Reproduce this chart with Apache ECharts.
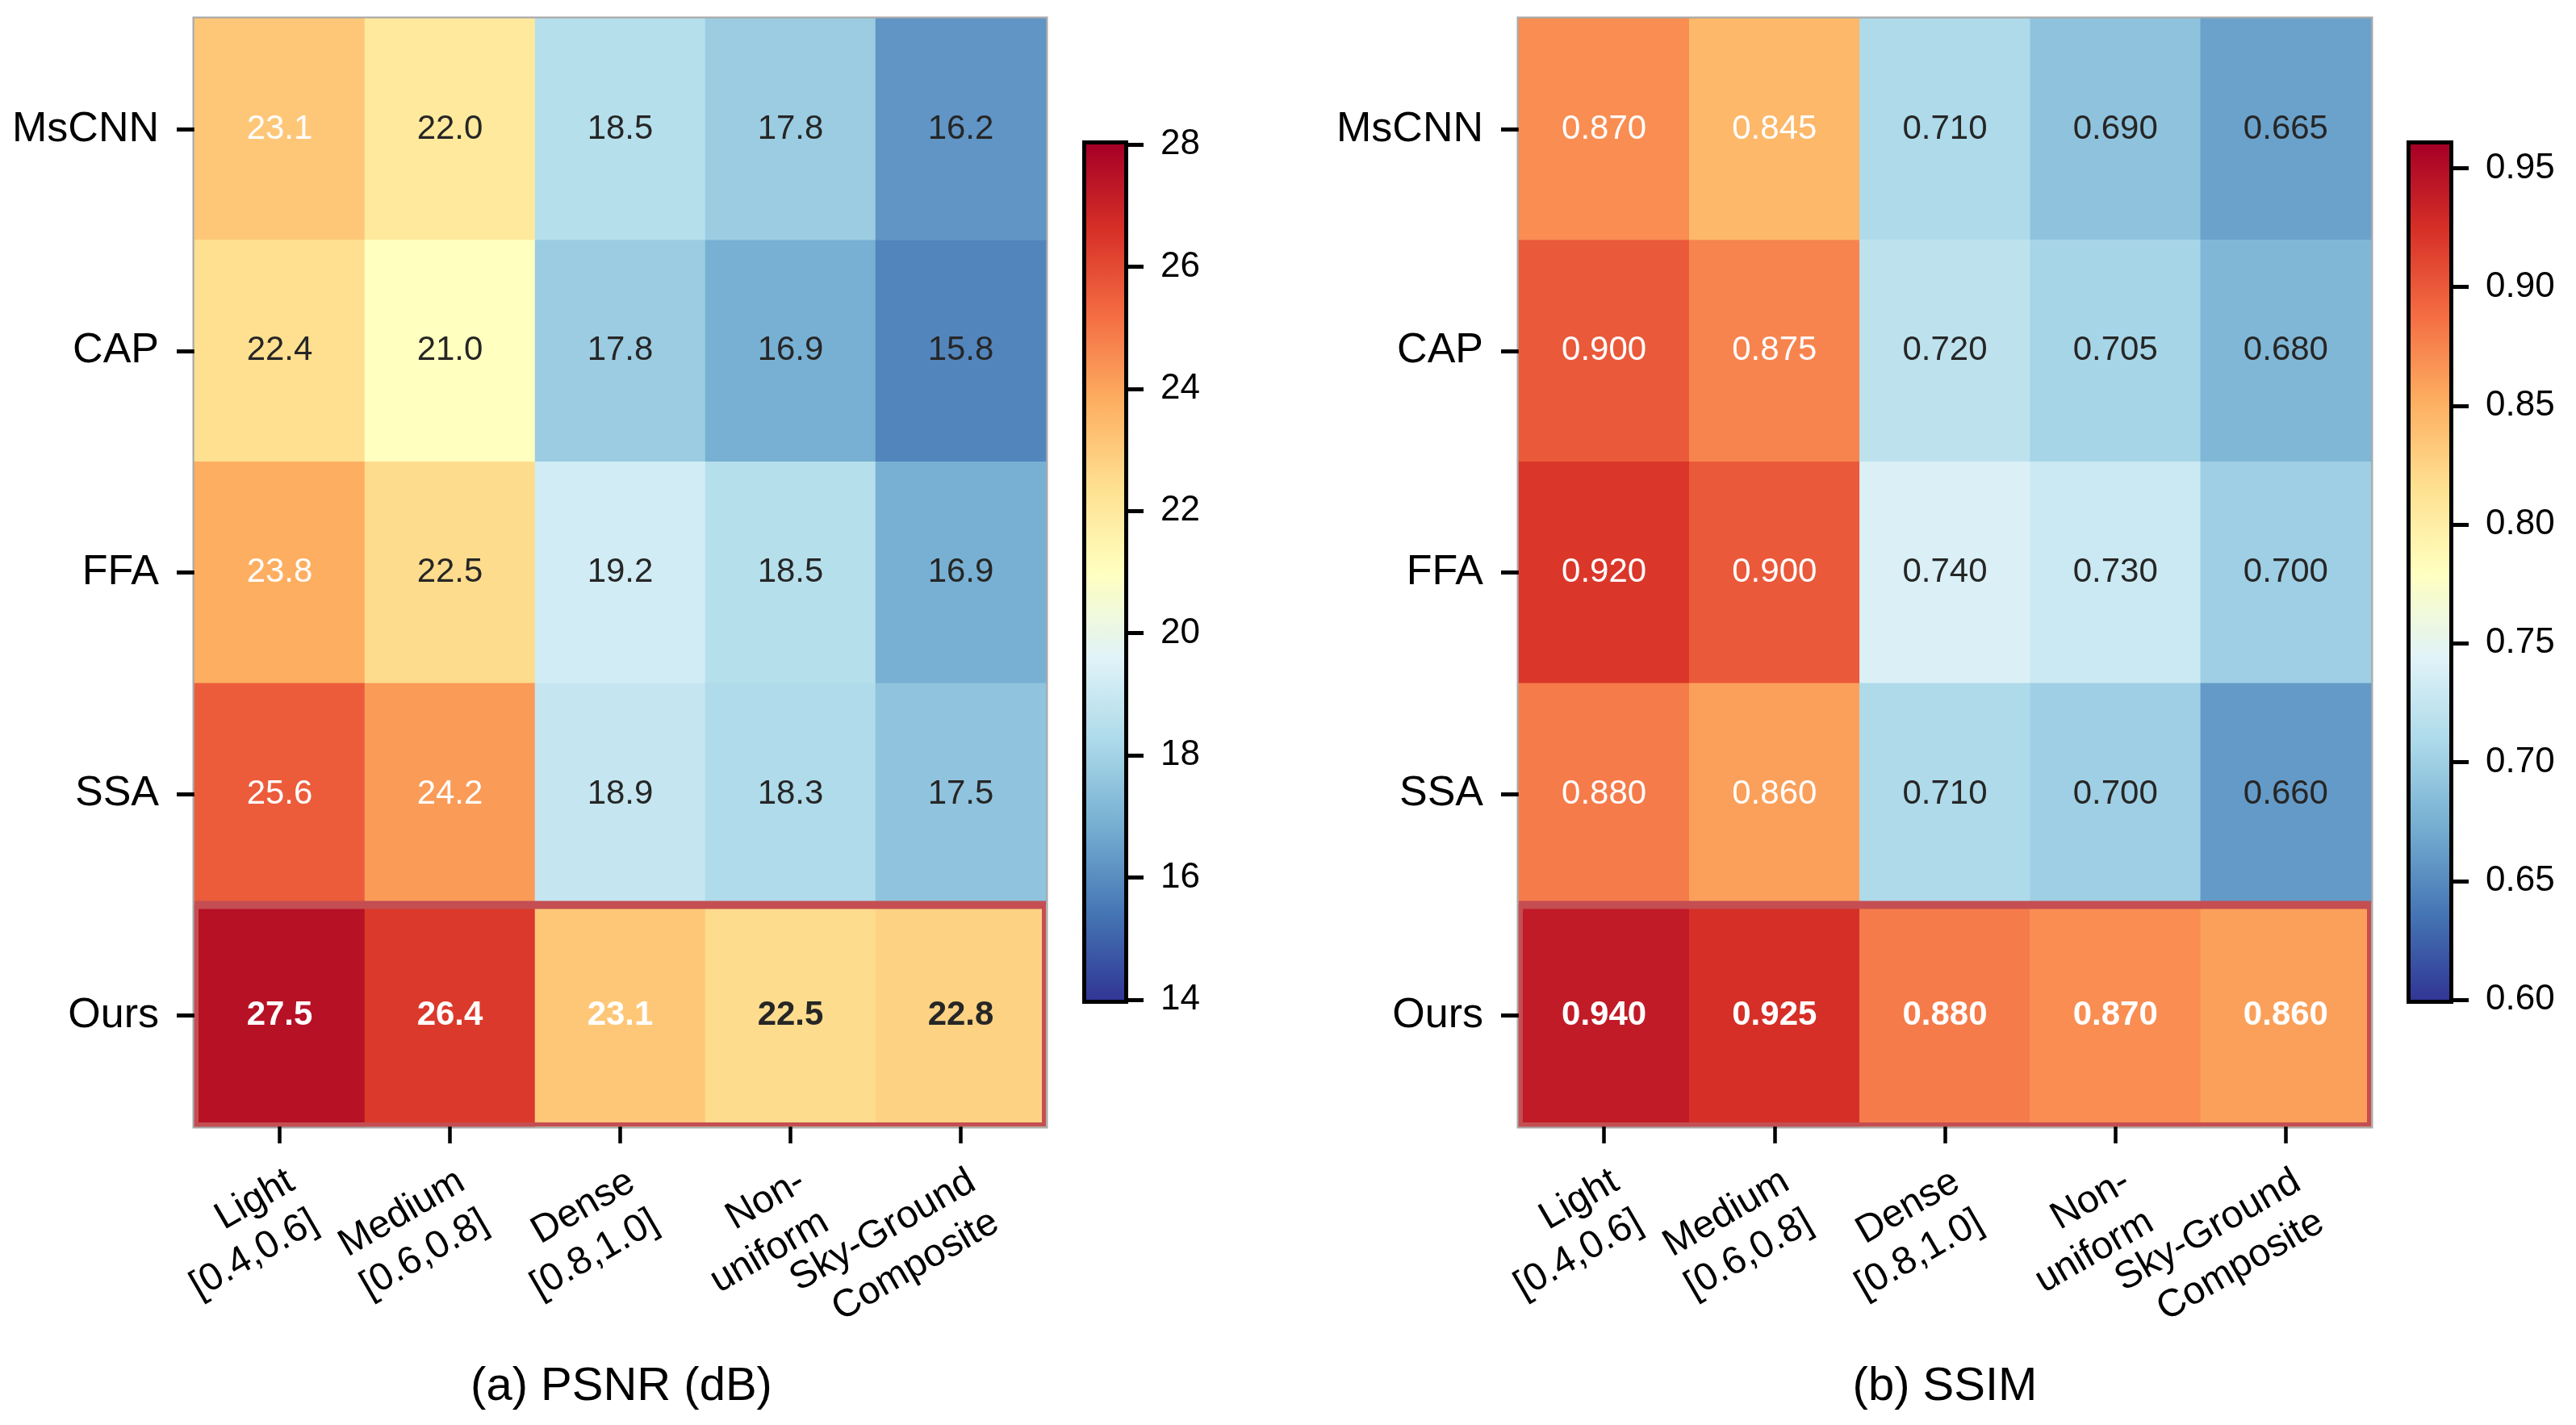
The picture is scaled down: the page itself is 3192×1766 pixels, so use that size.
<!DOCTYPE html>
<html>
<head>
<meta charset="utf-8">
<script src="https://cdn.jsdelivr.net/npm/echarts@6/dist/echarts.min.js"></script>
<style>
html,body{margin:0;padding:0;background:#fff;}
#chart{width:3192px;height:1766px;}
</style>
</head>
<body>
<div id="chart"></div>
<script>
// ---- data ----
const methods = ['MsCNN', 'CAP', 'FFA', 'SSA', 'Ours'];
const conditions = ['Light\n[0.4,0.6]', 'Medium\n[0.6,0.8]', 'Dense\n[0.8,1.0]', 'Non-\nuniform', 'Sky-Ground\nComposite'];
const psnrValues = [
  [23.1, 22.0, 18.5, 17.8, 16.2],
  [22.4, 21.0, 17.8, 16.9, 15.8],
  [23.8, 22.5, 19.2, 18.5, 16.9],
  [25.6, 24.2, 18.9, 18.3, 17.5],
  [27.5, 26.4, 23.1, 22.5, 22.8]
];
const ssimValues = [
  [0.870, 0.845, 0.710, 0.690, 0.665],
  [0.900, 0.875, 0.720, 0.705, 0.680],
  [0.920, 0.900, 0.740, 0.730, 0.700],
  [0.880, 0.860, 0.710, 0.700, 0.660],
  [0.940, 0.925, 0.880, 0.870, 0.860]
];
const psnrRange = [14, 28];
const ssimRange = [0.60, 0.96];
const psnrTicks = [14, 16, 18, 20, 22, 24, 26, 28];
const ssimTicks = [0.60, 0.65, 0.70, 0.75, 0.80, 0.85, 0.90, 0.95];
const highlightMethod = 'Ours';
const panelTitles = ['(a) PSNR (dB)', '(b) SSIM'];

// RdYlBu_r colormap control points
const cmap = ['#313695','#4575b4','#74add1','#abd9e9','#e0f3f8','#ffffbf','#fee090','#fdae61','#f46d43','#d73027','#a50026'];

const FONT = "'Liberation Sans', Arial, Helvetica, sans-serif";

function heatData(values, range) {
  const out = [];
  methods.forEach((m, r) => {
    conditions.forEach((c, ci) => {
      const v = values[r][ci];
      const norm = (v - range[0]) / (range[1] - range[0]);
      const isHi = m === highlightMethod;
      out.push({
        value: [ci, r, v],
        label: {
          color: norm > 0.64 ? '#ffffff' : '#262626',
          fontWeight: isHi ? 'bold' : 'normal'
        }
      });
    });
  });
  return out;
}

const grids = [
  { left: 241, top: 23, width: 1055, height: 1373 },
  { left: 1882, top: 23, width: 1056, height: 1373 },
  { left: 1346, top: 179, width: 47, height: 1060 },
  { left: 2987, top: 179, width: 48, height: 1060 }
];

const option = {
  backgroundColor: '#ffffff',
  animation: false,
  textStyle: { fontFamily: FONT },
  title: [
    { text: panelTitles[0], left: 770, top: 1684, textAlign: 'center', padding: 0,
      textStyle: { fontFamily: FONT, fontSize: 58, fontWeight: 'normal', color: '#000', lineHeight: 70 } },
    { text: panelTitles[1], left: 2410, top: 1684, textAlign: 'center', padding: 0,
      textStyle: { fontFamily: FONT, fontSize: 58, fontWeight: 'normal', color: '#000', lineHeight: 70 } }
  ],
  grid: [
    Object.assign({ show: true, borderColor: '#aaaaaa', borderWidth: 5, backgroundColor: 'transparent' }, grids[0]),
    Object.assign({ show: true, borderColor: '#aaaaaa', borderWidth: 5, backgroundColor: 'transparent' }, grids[1]),
    Object.assign({ show: true, borderColor: '#000000', borderWidth: 10, backgroundColor: 'transparent' }, grids[2]),
    Object.assign({ show: true, borderColor: '#000000', borderWidth: 10, backgroundColor: 'transparent' }, grids[3])
  ],
  visualMap: [
    { type: 'continuous', show: false, seriesIndex: 0, min: psnrRange[0], max: psnrRange[1], inRange: { color: cmap } },
    { type: 'continuous', show: false, seriesIndex: 2, min: ssimRange[0], max: ssimRange[1], inRange: { color: cmap } }
  ],
  xAxis: [0, 1].map(i => ({
    type: 'category', gridIndex: i, data: conditions, position: 'bottom',
    axisLine: { show: false },
    axisTick: { show: true, alignWithLabel: true, length: 21, lineStyle: { color: '#000', width: 4.5 } },
    axisLabel: { rotate: 30, fontSize: 48, lineHeight: 58, color: '#000', margin: 40, align: 'right', verticalAlign: 'top', fontFamily: FONT, interval: 0 },
    splitLine: { show: false }
  })).concat([2, 3].map(i => ({
    type: 'category', gridIndex: i, data: [''], show: false
  }))),
  yAxis: [0, 1].map(i => ({
    type: 'category', gridIndex: i, data: methods, inverse: true,
    axisLine: { show: false },
    axisTick: { show: true, alignWithLabel: true, length: 22, lineStyle: { color: '#000', width: 5 } },
    axisLabel: { fontSize: 52, color: '#000', margin: 44, fontFamily: FONT, padding: [6, 0, 0, 0] },
    splitLine: { show: false }
  })).concat([
    { type: 'value', gridIndex: 2, min: psnrRange[0], max: psnrRange[1], position: 'right',
      axisLine: { show: false }, splitLine: { show: false },
      axisTick: { show: true, length: 24, customValues: psnrTicks, lineStyle: { color: '#000', width: 5 } },
      axisLabel: { fontSize: 44, color: '#000', margin: 45, customValues: psnrTicks, fontFamily: FONT,
        formatter: v => String(Math.round(v)) } },
    { type: 'value', gridIndex: 3, min: ssimRange[0], max: ssimRange[1], position: 'right',
      axisLine: { show: false }, splitLine: { show: false },
      axisTick: { show: true, length: 24, customValues: ssimTicks, lineStyle: { color: '#000', width: 5 } },
      axisLabel: { fontSize: 44, color: '#000', margin: 45, customValues: ssimTicks, fontFamily: FONT,
        formatter: v => Number(v).toFixed(2) } }
  ]),
  series: []
};

function highlightSeries(xi) {
  return {
    type: 'custom', xAxisIndex: xi, yAxisIndex: xi, clip: true, z: 5, silent: true,
    data: [[0, methods.indexOf(highlightMethod)]],
    encode: { x: 0, y: 1 },
    renderItem: function (params, api) {
      const c = api.coord([0, api.value(1)]);
      const s = api.size([1, 1]);
      const cs = params.coordSys;
      return {
        type: 'rect',
        shape: { x: cs.x, y: c[1] - s[1] / 2, width: cs.width, height: s[1] },
        style: { fill: 'none', stroke: '#c44e52', lineWidth: 10 }
      };
    }
  };
}

function colorbarSeries(idx, range) {
  return {
    type: 'custom', xAxisIndex: idx, yAxisIndex: idx, silent: true, z: 1,
    data: [[0, range[0], range[1]]],
    renderItem: function (params, api) {
      const cs = params.coordSys;
      const top = api.coord([0, api.value(2)]);
      const bot = api.coord([0, api.value(1)]);
      const stops = cmap.map((col, k) => ({ offset: k / (cmap.length - 1), color: col }));
      return {
        type: 'rect',
        shape: { x: cs.x, y: top[1], width: cs.width, height: bot[1] - top[1] },
        style: { fill: new echarts.graphic.LinearGradient(0, 1, 0, 0, stops) }
      };
    }
  };
}

option.series = [
  { type: 'heatmap', xAxisIndex: 0, yAxisIndex: 0, data: heatData(psnrValues, psnrRange),
    label: { show: true, fontSize: 42, fontFamily: FONT, padding: [4, 0, 0, 0], formatter: p => p.value[2].toFixed(1) },
    emphasis: { disabled: true } },
  highlightSeries(0),
  { type: 'heatmap', xAxisIndex: 1, yAxisIndex: 1, data: heatData(ssimValues, ssimRange),
    label: { show: true, fontSize: 42, fontFamily: FONT, padding: [4, 0, 0, 0], formatter: p => p.value[2].toFixed(3) },
    emphasis: { disabled: true } },
  highlightSeries(1),
  colorbarSeries(2, psnrRange),
  colorbarSeries(3, ssimRange)
];

const chart = echarts.init(document.getElementById('chart'), null, { renderer: 'canvas', width: 3192, height: 1766 });
chart.setOption(option);
</script>
</body>
</html>
